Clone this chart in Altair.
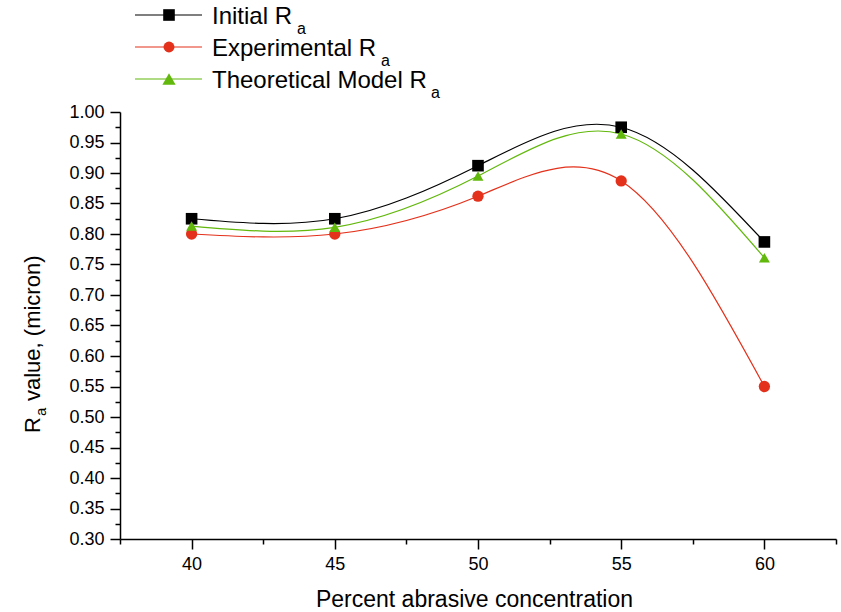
import altair as alt
import pandas as pd

# ---- data ----
conc = [40, 45, 50, 55, 60]
initial_ra = [0.825, 0.825, 0.912, 0.975, 0.787]
experimental_ra = [0.800, 0.800, 0.862, 0.887, 0.550]
theoretical_ra = [0.813, 0.811, 0.895, 0.964, 0.761]
series_names = ["Initial", "Experimental", "Theoretical Model"]
series_colors = ["#000000", "#e3311b", "#62b80c"]
series_shapes = ["square", "circle", "triangle-up"]
series_sizes = [135, 120, 175]
x_ticks = [37.5 + 2.5 * i for i in range(11)]
y_ticks = [round(0.30 + 0.025 * i, 3) for i in range(29)]

rows = []
for name, vals in zip(series_names, [initial_ra, experimental_ra, theoretical_ra]):
    for c, v in zip(conc, vals):
        rows.append({"conc": c, "ra": v, "series": name})
df = pd.DataFrame(rows)

FONT = "Liberation Sans"
X_MAJOR = "datum.value % 5 === 0"
Y_MAJOR = "round(datum.value * 1000) % 50 === 0"

xscale = alt.Scale(domain=[37.5, 62.5], nice=False, zero=False)
yscale = alt.Scale(domain=[0.30, 1.00], nice=False, zero=False)
cscale = alt.Scale(domain=series_names, range=series_colors)
sscale = alt.Scale(domain=series_names, range=series_shapes)
zscale = alt.Scale(domain=series_names, range=series_sizes)

x_axis = alt.Axis(
    values=x_ticks,
    labelExpr=X_MAJOR + " ? format(datum.value, 'd') : ''",
    tickSize={"condition": {"test": X_MAJOR, "value": 10}, "value": 5},
    labelFontSize={"condition": {"test": X_MAJOR, "value": 18}, "value": 0},
    labelFont=FONT, labelColor="black", labelPadding=6,
    labelOverlap=False, grid=False,
    domainColor="black", domainWidth=1.5, tickColor="black", tickWidth=1.5,
    title="Percent abrasive concentration", titleFont=FONT, titleFontSize=23,
    titleFontWeight="normal", titleColor="black",
    titleX=354, titleY=67, titleAlign="center", titleBaseline="alphabetic",
)
y_axis = alt.Axis(
    values=y_ticks,
    labelExpr=Y_MAJOR + " ? format(datum.value, '.2f') : ''",
    tickSize={"condition": {"test": Y_MAJOR, "value": 10}, "value": 5},
    labelFontSize={"condition": {"test": Y_MAJOR, "value": 18}, "value": 0},
    labelFont=FONT, labelColor="black", labelPadding=6,
    labelOverlap=False, labelBound=False, grid=False,
    domainColor="black", domainWidth=1.5, tickColor="black", tickWidth=1.5,
    title=None,
)

base = alt.Chart(df)
lines = base.mark_line(interpolate="natural", strokeWidth=1.2).encode(
    x=alt.X("conc:Q", scale=xscale, axis=x_axis),
    y=alt.Y("ra:Q", scale=yscale, axis=y_axis),
    color=alt.Color("series:N", scale=cscale, legend=None),
    detail="series:N",
)
points = base.mark_point(filled=True, opacity=1).encode(
    x=alt.X("conc:Q", scale=xscale, axis=x_axis),
    y=alt.Y("ra:Q", scale=yscale, axis=y_axis),
    color=alt.Color("series:N", scale=cscale, legend=None),
    shape=alt.Shape("series:N", scale=sscale, legend=None),
    size=alt.Size("series:N", scale=zscale, legend=None),
)

one = alt.Data(values=[{"k": 1}])
layers = [lines, points]

# ---- manual legend (subscript a) ----
leg_line_y = [-97, -65, -33]
leg_text_y = [-88, -56, -24]
leg_sub_y = [-78, -46, -14]
leg_sub_x = [177, 261, 311]
for i, name in enumerate(series_names):
    col = series_colors[i]
    layers.append(alt.Chart(one).mark_rule(color=col, strokeWidth=1.2).encode(
        x=alt.value(15), x2=alt.value(82), y=alt.value(leg_line_y[i])))
    layers.append(alt.Chart(one).mark_point(
        shape=series_shapes[i], filled=True, size=series_sizes[i], color=col, opacity=1).encode(
        x=alt.value(49), y=alt.value(leg_line_y[i])))
    layers.append(alt.Chart(one).mark_text(
        text=name + " R", align="left", baseline="alphabetic", fontSize=24,
        font=FONT, color="black").encode(x=alt.value(92), y=alt.value(leg_text_y[i])))
    layers.append(alt.Chart(one).mark_text(
        text="a", align="left", baseline="alphabetic", fontSize=16,
        font=FONT, color="black").encode(x=alt.value(leg_sub_x[i]), y=alt.value(leg_sub_y[i])))

# ---- y axis title with subscript ----
layers.append(alt.Chart(one).mark_text(
    text="R", angle=270, align="left", baseline="alphabetic", fontSize=22,
    font=FONT, color="black").encode(x=alt.value(-80), y=alt.value(321)))
layers.append(alt.Chart(one).mark_text(
    text="a", angle=270, align="left", baseline="alphabetic", fontSize=15,
    font=FONT, color="black").encode(x=alt.value(-74), y=alt.value(304)))
layers.append(alt.Chart(one).mark_text(
    text="value, (micron)", angle=270, align="left", baseline="alphabetic", fontSize=22,
    font=FONT, color="black").encode(x=alt.value(-80), y=alt.value(289)))

chart = alt.layer(*layers).properties(
    width=716, height=427,
    padding={"left": 120, "top": 112, "right": 5, "bottom": 73},
    autosize=alt.AutoSizeParams(type="none"),
    background="white",
).configure_view(stroke="transparent").configure_axis(labelOverlap=False)

chart.save("out.html", embed_options={"renderer": "svg", "actions": False})
